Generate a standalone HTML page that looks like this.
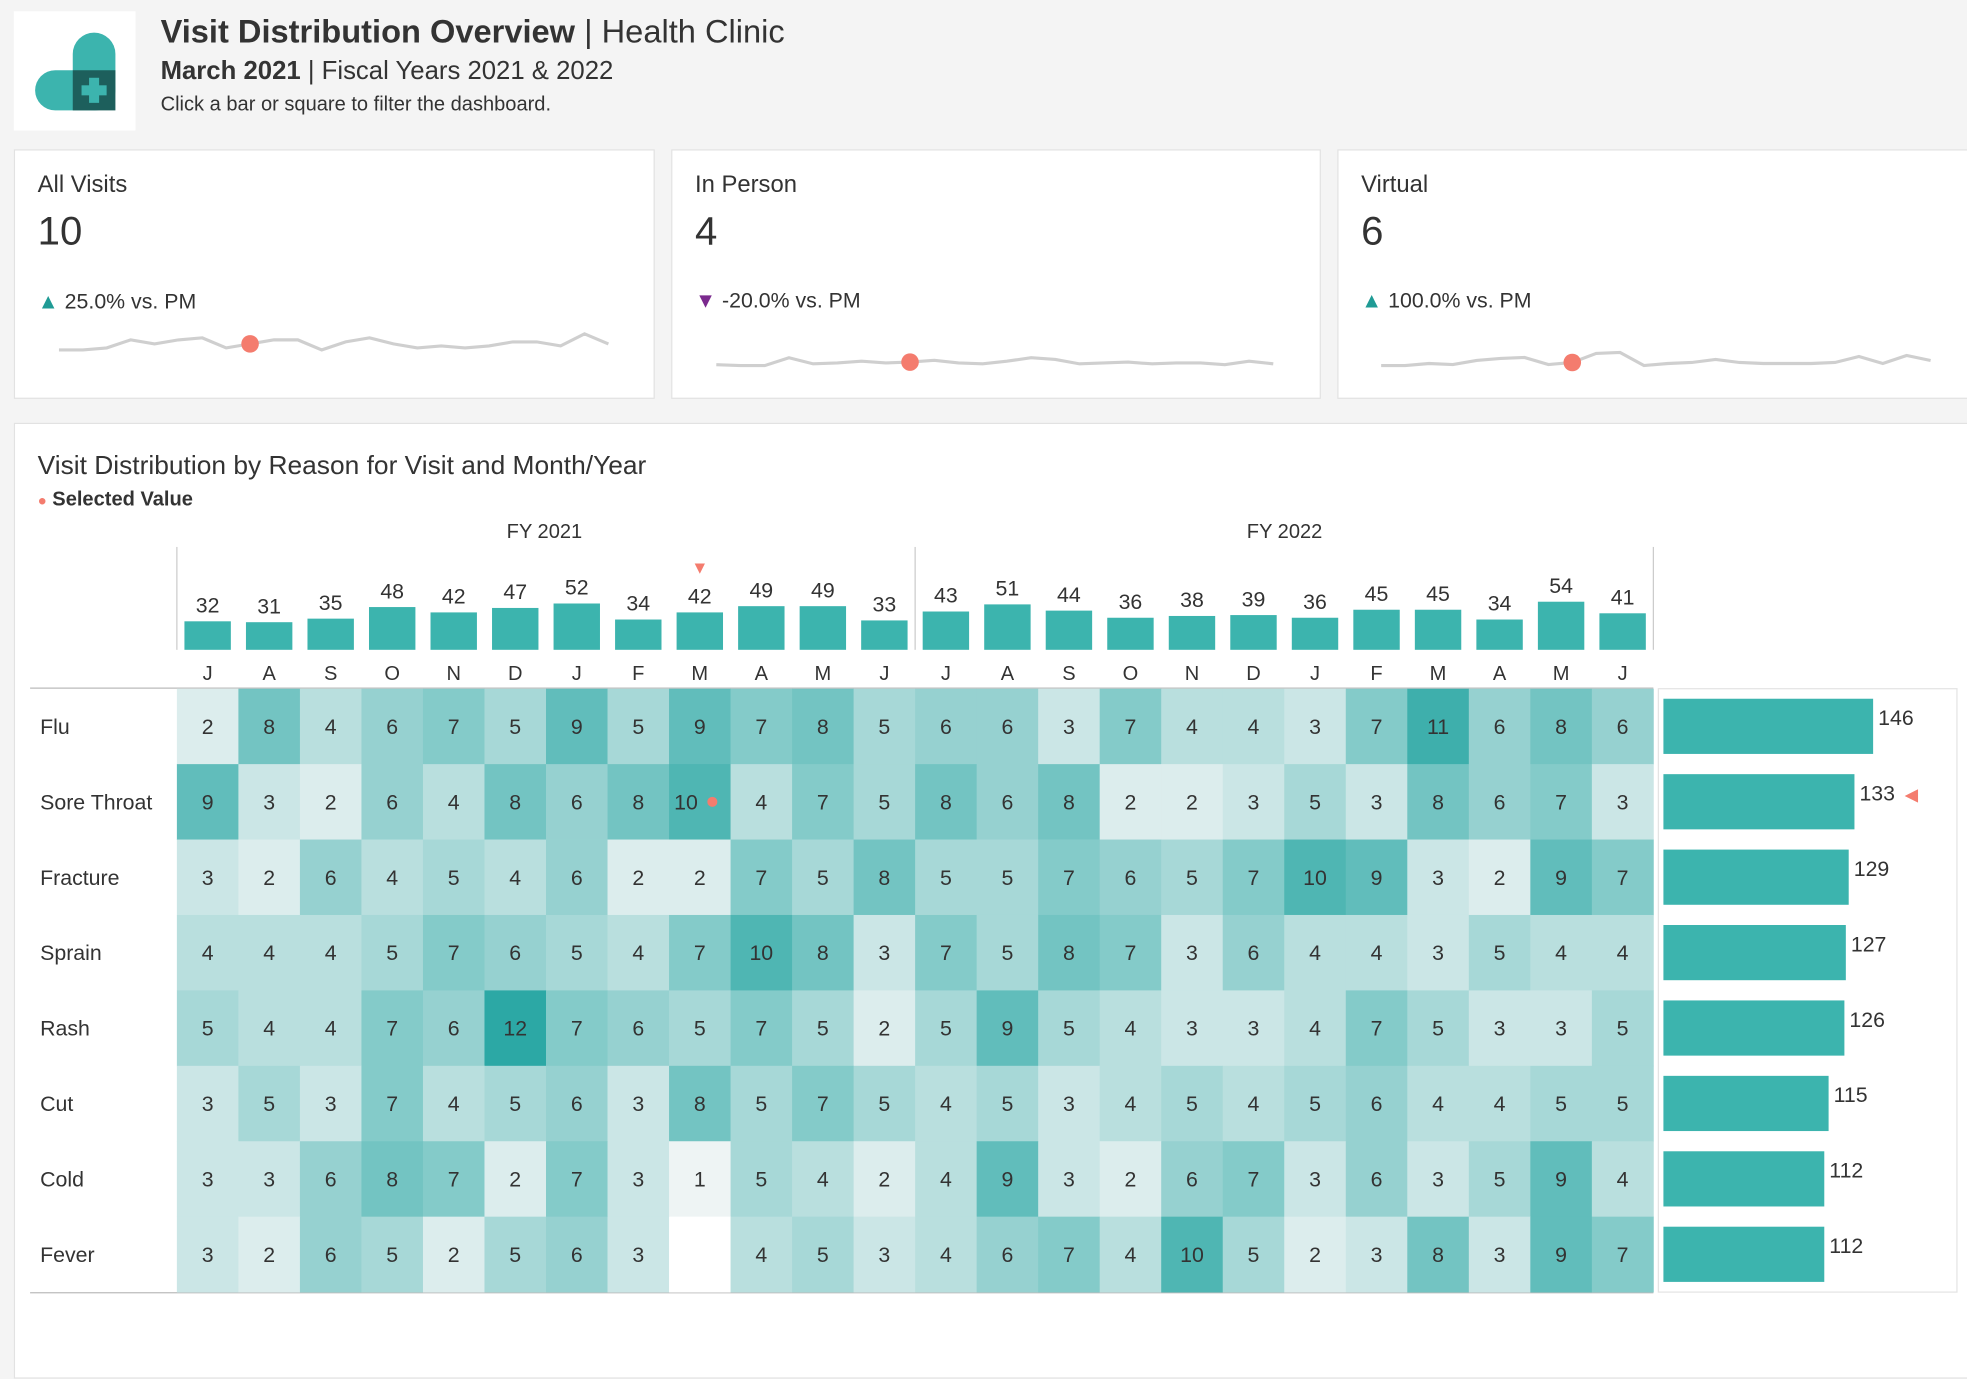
<!DOCTYPE html>
<html><head><meta charset="utf-8">
<style>
html,body{margin:0;padding:0;width:1967px;height:1311px;overflow:hidden;background:#f4f4f4;font-family:"Liberation Sans",sans-serif;color:#333}
#wrap{position:absolute;left:0;top:0;width:1568px;height:1045px;transform:scale(1.25446);transform-origin:0 0}
.card{position:absolute;background:#fff;border:1px solid #e2e2e2}
.abs{position:absolute;white-space:nowrap}
</style></head><body>
<div id="wrap">
  <div class="card" style="left:11px;top:9px;width:97px;height:95px;border:none">
    <svg width="97" height="95">
      <rect x="47" y="17" width="34" height="62" rx="17" fill="#3cb4ae"/>
      <rect x="17" y="47" width="64" height="32" rx="16" fill="#3cb4ae"/>
      <rect x="47" y="47" width="34" height="32" fill="#1d5f5c"/>
      <rect x="60" y="53" width="8" height="20" fill="#3cb4ae"/>
      <rect x="54" y="59" width="20" height="8" fill="#3cb4ae"/>
    </svg>
  </div>
  <div class="abs" style="left:128px;top:10px;font-size:26px;color:#333"><b>Visit Distribution Overview</b> | Health Clinic</div>
  <div class="abs" style="left:128px;top:45px;font-size:20.5px"><b style="font-weight:600">March 2021</b> | Fiscal Years 2021 &amp; 2022</div>
  <div class="abs" style="left:128px;top:75px;font-size:16px">Click a bar or square to filter the dashboard.</div>

  <div class="card" style="left:11px;top:119px;width:509px;height:197px">
    <div class="abs" style="left:18px;top:17px;font-size:19px">All Visits</div>
    <div class="abs" style="left:18px;top:46px;font-size:32px">10</div>
    <div class="abs" style="left:18px;top:111px;font-size:17px"><span style="color:#1f9b95">▲</span> 25.0% vs. PM</div>
  </div>
  <div class="card" style="left:535px;top:119px;width:516px;height:197px">
    <div class="abs" style="left:18px;top:17px;font-size:19px">In Person</div>
    <div class="abs" style="left:18px;top:46px;font-size:32px">4</div>
    <div class="abs" style="left:18px;top:110px;font-size:17px"><span style="color:#7b2a8e">▼</span> -20.0% vs. PM</div>
  </div>
  <div class="card" style="left:1066px;top:119px;width:510px;height:197px">
    <div class="abs" style="left:18px;top:17px;font-size:19px">Virtual</div>
    <div class="abs" style="left:18px;top:46px;font-size:32px">6</div>
    <div class="abs" style="left:18px;top:110px;font-size:17px"><span style="color:#1f9b95">▲</span> 100.0% vs. PM</div>
  </div>

  <div class="card" style="left:11px;top:337px;width:1570px;height:760px">
    <div class="abs" style="left:18px;top:22px;font-size:21px">Visit Distribution by Reason for Visit and Month/Year</div>
    <div class="abs" style="left:18px;top:52px;font-size:16px;font-weight:600"><span style="color:#f47c6e;font-size:12px">●</span> Selected Value</div>
  </div>
  <svg id="chart" class="abs" style="left:0;top:0" width="1568" height="1045"></svg>
</div>
<script>
const months=["J","A","S","O","N","D","J","F","M","A","M","J","J","A","S","O","N","D","J","F","M","A","M","J"];
const totals=[32,31,35,48,42,47,52,34,42,49,49,33,43,51,44,36,38,39,36,45,45,34,54,41];
const reasons=["Flu","Sore Throat","Fracture","Sprain","Rash","Cut","Cold","Fever"];
const reasonTotals=[146,133,129,127,126,115,112,112];
const flu=[2,8,4,6,7,5,9,5,9,7,8,5,6,6,3,7,4,4,3,7,11,6,8,6];
const soreThroat=[9,3,2,6,4,8,6,8,10,4,7,5,8,6,8,2,2,3,5,3,8,6,7,3];
const fracture=[3,2,6,4,5,4,6,2,2,7,5,8,5,5,7,6,5,7,10,9,3,2,9,7];
const sprain=[4,4,4,5,7,6,5,4,7,10,8,3,7,5,8,7,3,6,4,4,3,5,4,4];
const rash=[5,4,4,7,6,12,7,6,5,7,5,2,5,9,5,4,3,3,4,7,5,3,3,5];
const cut=[3,5,3,7,4,5,6,3,8,5,7,5,4,5,3,4,5,4,5,6,4,4,5,5];
const cold=[3,3,6,8,7,2,7,3,1,5,4,2,4,9,3,2,6,7,3,6,3,5,9,4];
const fever=[3,2,6,5,2,5,6,3,null,4,5,3,4,6,7,4,10,5,2,3,8,3,9,7];
const sparkAll=[29,29,30,34,32,34,35,30,32,34,34,29,33,35,32,30,31,30,31,33,33,31,37,32];
const sparkInPerson=[5,4.5,4.5,9,5.5,6,7,6,6.5,7.5,6,5.5,7,9,8,5.5,6,6.5,5.5,6,6,5,7,5.5];
const sparkVirtual=[4,4,5,4.5,6.5,7.5,8,4.5,5.5,10,10.5,4,5,5.5,7,5.5,5,5,5,5.5,8.5,5,9,6.5];
const selIdx=8, selRow=1;
const rows=[flu,soreThroat,fracture,sprain,rash,cut,cold,fever];
const NS="http://www.w3.org/2000/svg";
const svg=document.getElementById('chart');
function mk(tag,attrs,parent){const e=document.createElementNS(NS,tag);for(const k in attrs)e.setAttribute(k,attrs[k]);(parent||svg).appendChild(e);return e;}
function txt(x,y,s,size,anchor,parent){const t=mk('text',{x:x,y:y,'font-size':size,'text-anchor':anchor||'middle','fill':'#333','font-family':'Liberation Sans, sans-serif'},parent);t.textContent=s;return t;}
const x0=141,x1=1318,colW=(x1-x0)/months.length;
const y0=549,rowH=(1030-549)/reasons.length;
const xCol=i=>x0+i*colW;
const yRow=r=>y0+r*rowH;
const barBase=518,barScale=0.71;
const yBar=v=>barBase-v*barScale;
const rx0=1326,rScale=1.145;
const xR=v=>rx0+v*rScale;
function colorFor(v){const t=Math.max(0,Math.min(1,(v-1)/11));
 const a=[238,244,244],b=[44,168,165];
 return 'rgb('+a.map((c,i)=>Math.round(c+(b[i]-c)*t)).join(',')+')';}
let l=txt(434,429,"FY 2021",16);
l=txt(1024,429,"FY 2022",16);
[x0,xCol(12),x1].forEach(x=>{const d=mk('line',{x1:x,x2:x,y1:436,y2:518,stroke:'#ccc'});});
totals.forEach((v,i)=>{const cx=xCol(i)+colW/2;
 const r=mk('rect',{x:cx-18.5,y:yBar(v),width:37,height:barBase-yBar(v),fill:'#3cb4ae'});
 
 
 const t=txt(cx,yBar(v)-7,String(v),17);
 const m=txt(cx,542,months[i],16);
});
const mk2=txt(xCol(selIdx)+colW/2,457,"▼",14);mk2.setAttribute('fill','#f47c6e');
const bl=mk('line',{x1:24,x2:x1,y1:548.5,y2:548.5,stroke:'#bbb'});
const bl2=mk('line',{x1:24,x2:x1,y1:1030.5,y2:1030.5,stroke:'#bbb'});
const rp=mk('rect',{x:1322,y:549,width:238,height:481,fill:'#fff',stroke:'#e4e4e4'});
rows.forEach((row,r)=>{
 const lb=txt(32,yRow(r)+rowH/2+6,reasons[r],17,'start');
 row.forEach((v,i)=>{
  const c=mk('rect',{x:xCol(i),y:yRow(r),width:colW+0.3,height:rowH+0.3,fill:v==null?'#ffffff':colorFor(v)});
  
  
  if(v!=null){const t=txt(xCol(i)+colW/2+(r===selRow&&i===selIdx?-11:0),yRow(r)+rowH/2+6,String(v),17);}
  if(r===selRow&&i===selIdx){const d=mk('circle',{cx:xCol(i)+colW/2+10,cy:yRow(r)+rowH/2,r:4,fill:'#f47c6e'});}
 });
 const v=reasonTotals[r];
 const b=mk('rect',{x:rx0,y:yRow(r)+8,width:xR(v)-rx0,height:44,fill:'#3cb4ae'});
 
 
 const t=txt(xR(v)+4,yRow(r)+29,String(v),17,'start');
 if(r===selRow){const m=txt(xR(v)+40,yRow(r)+29,"◀",14,'start');m.setAttribute('fill','#f47c6e');}
});
function spark(data,xa,xb,ymid,scale,name){
 const step=(xb-xa)/(data.length-1);const mean=data.reduce((a,b)=>a+b,0)/data.length;
 const pts=data.map((v,i)=>[xa+i*step,ymid-(v-mean)*scale]);
 const p=mk('polyline',{points:pts.map(p=>p.join(',')).join(' '),fill:'none',stroke:'#cfcfcf','stroke-width':2.5});
 
 
 const d=mk('circle',{cx:pts[selIdx][0],cy:pts[selIdx][1],r:7,fill:'#f47c6e'});
 
 
}
spark(sparkAll,47,485,274,1.6,'all-visits-sparkline');
spark(sparkInPerson,571,1015,289,1.4,'in-person-sparkline');
spark(sparkVirtual,1101,1539,288,1.6,'virtual-sparkline');
</script>
</body></html>
